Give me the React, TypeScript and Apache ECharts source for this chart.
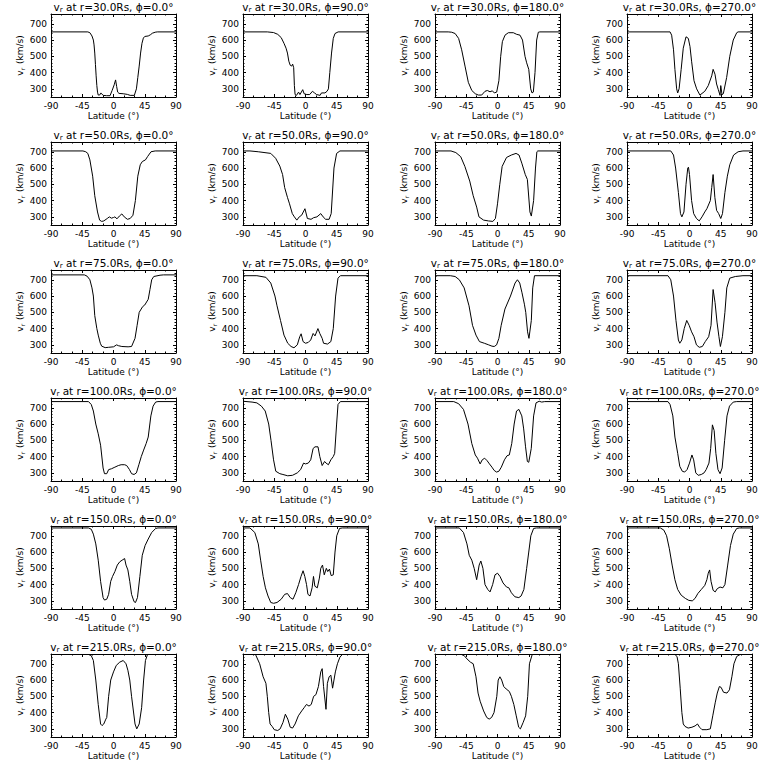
import React, { useEffect, useRef } from 'react';
import * as echarts from 'echarts';

const radii = ['30.0', '50.0', '75.0', '100.0', '150.0', '215.0'];
const phis = ['0.0', '90.0', '180.0', '270.0'];
const latMin = -90;
const latMax = 90;
const latStep = 45;
const vMin = 250;
const vMax = 760;

// r = 30 Rs
const r30p0 = [[-90,650],[-37,650],[-34,645],[-31,625],[-29,600],[-28,570],[-27,520],[-26,450],[-25,380],[-24,320],[-23,280],[-22,262],[-20,262],[-18,275],[-17,270],[-15,260],[-10,258],[-5,258],[-2,290],[1,325],[3,355],[4.5,315],[6,280],[8,272],[14,270],[20,266],[24,260],[30,260],[33,300],[35,370],[37,440],[39,520],[41,580],[43,612],[45,622],[50,625],[53,632],[56,642],[60,648],[63,650],[90,650]];
const r30p90 = [[-90,650],[-55,650],[-46,646],[-40,635],[-35,615],[-31,580],[-28,550],[-26,520],[-24,470],[-22,445],[-20,440],[-18.5,452],[-17,430],[-16,320],[-15,265],[-13,260],[-10,280],[-8,265],[-4,295],[-2,270],[2,265],[6,265],[10,285],[13,275],[16,265],[21,260],[23,275],[28,275],[31,285],[33,300],[35,400],[37.5,520],[40,610],[42.5,640],[47,650],[90,650]];
const r30p180 = [[-90,650],[-71,650],[-66,648],[-61,640],[-56,610],[-51.6,540],[-46.8,440],[-42,340],[-37,290],[-32,270],[-27.6,262],[-22.8,262],[-18,285],[-14.6,290],[-10.8,282],[-7.4,288],[-4.6,275],[-1.2,280],[2,350],[4.6,500],[7,590],[10.8,630],[15.6,645],[22.8,645],[27.6,635],[32.4,630],[36,600],[39.6,500],[42,460],[45,420],[47.8,300],[49.7,275],[51.6,280],[54,400],[56.4,600],[58.8,648],[61,650],[90,650]];
const r30p270 = [[-90,650],[-28,650],[-25.7,630],[-23,540],[-21,420],[-18.5,300],[-17,275],[-15,300],[-12,420],[-9,550],[-5,620],[-1.7,610],[0.7,560],[3,470],[6.5,350],[10.3,300],[15,262],[22,285],[27,320],[32,380],[34,420],[36.7,390],[39,330],[41.5,295],[44,260],[45,320],[46.8,265],[48.7,270],[53.5,370],[58,500],[63,600],[68,645],[70,650],[90,650]];

// r = 50 Rs
const r50p0 = [[-90,705],[-44,705],[-40,700],[-37,690],[-34,650],[-30,550],[-27,430],[-23,330],[-20,280],[-17,272],[-14,275],[-9,290],[-6,300],[-3,292],[0,296],[2,300],[5,288],[8.5,305],[12,318],[15.5,300],[20,285],[24,290],[28,310],[31.5,400],[35,550],[38.5,620],[41.5,640],[46,650],[49,670],[54,700],[60,705],[90,705]];
const r50p90 = [[-90,705],[-80,705],[-68,700],[-50,690],[-43,660],[-37,612],[-33,560],[-30,480],[-26,420],[-23,380],[-19,320],[-16,300],[-12.5,280],[-9,300],[-5.6,310],[-0.8,350],[2.7,290],[8,285],[11.7,295],[16.5,300],[22,320],[25.4,300],[29,285],[34,285],[37,320],[41,600],[44.8,690],[49.6,705],[90,705]];
const r50p180 = [[-90,705],[-67,705],[-60,695],[-53,670],[-47,610],[-40,520],[-35,430],[-30,360],[-26.7,300],[-20,280],[-13,275],[-6.7,272],[-3,290],[0,380],[3.3,500],[6.7,610],[13,665],[20,680],[26.7,690],[31,680],[35,630],[40,560],[43,530],[46.7,330],[48.7,305],[52,400],[54.7,600],[56.7,700],[58,705],[90,705]];
const r50p270 = [[-90,705],[-27,705],[-23,680],[-20,600],[-16,450],[-13,320],[-11,300],[-8,330],[-5,500],[-2.5,600],[-1.5,605],[0,560],[3,400],[6,320],[10,290],[14,275],[18,300],[22,330],[25,350],[30,400],[32,480],[34,560],[36.5,420],[39,340],[42,320],[45,290],[47.5,320],[51,450],[54.5,550],[58,620],[63.5,680],[70,700],[77,705],[90,705]];

// r = 75 Rs
const r75p0 = [[-90,730],[-42,730],[-38,722],[-34,700],[-31,650],[-29,600],[-27,480],[-24,400],[-22,360],[-19,310],[-17,292],[-12,283],[-7,285],[0,288],[4.5,300],[7,295],[12,290],[21,288],[26,290],[31,340],[34,420],[37,500],[42,535],[45,545],[50,580],[52.5,640],[55,700],[58,720],[67,728],[72,730],[90,730]];
const r75p90 = [[-90,725],[-70,725],[-57,715],[-50,680],[-44,600],[-41,540],[-36,450],[-31,360],[-25.6,310],[-20.8,290],[-16.6,282],[-11.8,300],[-8.3,350],[-6.3,368],[-3.5,320],[0,310],[4,315],[7.5,330],[11,370],[13.7,355],[17.9,400],[20.6,370],[24,340],[26,310],[31.7,305],[36.5,320],[40,400],[43.4,600],[46.8,710],[50.3,725],[90,725]];
const r75p180 = [[-90,725],[-68,725],[-61,720],[-55,700],[-48,650],[-41,540],[-36,420],[-31,360],[-26,320],[-19,310],[-12.7,300],[-8,292],[-4.7,290],[-1.3,300],[2,340],[5.3,420],[10.7,520],[18.7,600],[25.3,680],[28.7,700],[32,680],[35.3,620],[38.7,550],[40.7,500],[43.3,380],[45.3,340],[48.7,450],[50.7,650],[53.3,725],[90,725]];
const r75p270 = [[-90,725],[-31,725],[-27,700],[-23,600],[-19.5,450],[-16,330],[-14,310],[-11,330],[-7.6,400],[-4,450],[-0.5,420],[3,380],[6.5,350],[10,300],[14,285],[18.5,290],[22.7,320],[27.6,350],[31,420],[34,640],[36.8,560],[39.6,440],[42.4,350],[44.5,290],[47.4,350],[51,500],[53.7,650],[58,710],[66,720],[77,725],[90,725]];

// r = 100 Rs
const r100p0 = [[-90,738],[-36,738],[-32,720],[-29,680],[-25.5,600],[-22,540],[-18.6,470],[-15,330],[-13,295],[-9.7,295],[-7,320],[-3,325],[2,335],[7,345],[11,350],[16,350],[19,345],[23,320],[26,295],[29.6,290],[33,300],[36.5,350],[40,400],[43.4,440],[47,480],[50,520],[53.8,650],[57,710],[60.7,735],[64,738],[90,738]];
const r100p90 = [[-90,740],[-77,735],[-70,730],[-63.5,710],[-58,680],[-53,600],[-49.7,500],[-46,380],[-42.8,310],[-37,295],[-32.5,290],[-25.6,282],[-18.7,285],[-11.8,300],[-7,320],[-2.8,360],[0,355],[4,360],[7.5,380],[11,450],[13.7,460],[18,460],[20.6,400],[24,345],[27.5,370],[29.6,360],[33,350],[36.5,380],[40,400],[42,420],[44.8,600],[46.8,720],[50.3,738],[90,738]];
const r100p180 = [[-90,738],[-63,738],[-56,725],[-49,690],[-42.5,600],[-37,480],[-32,410],[-28.8,390],[-25,355],[-22,380],[-18.5,390],[-15,375],[-11.6,355],[-8,335],[-4.8,315],[-1.4,305],[2,310],[5.5,335],[10,380],[13.7,405],[17,410],[20.5,480],[24,600],[27.4,680],[30.8,690],[35,650],[37.7,570],[40.4,460],[43,370],[45,365],[48.6,450],[52,650],[55.5,730],[60,740],[63.7,735],[68,738],[90,738]];
const r100p270 = [[-90,738],[-31,738],[-28,720],[-24,650],[-21,520],[-17,420],[-14,340],[-10.4,310],[-7,305],[-3.5,320],[0,360],[3.5,410],[6,380],[9,300],[12.5,285],[17,290],[21,300],[24,320],[28,360],[30.5,450],[33,595],[35.5,560],[38,420],[41,320],[44,295],[47,330],[50.6,500],[54,650],[57.6,710],[63,735],[68,738],[90,738]];

// r = 150 Rs
const r150p0 = [[-90,748],[-36,748],[-32,740],[-29,710],[-25.5,650],[-22,550],[-18.6,420],[-15,320],[-13,305],[-9.7,310],[-7,340],[-4,420],[-1.4,450],[2,480],[5.5,520],[9,540],[12.4,550],[16,560],[18,520],[20.7,490],[23.4,420],[26,340],[29.6,295],[31.7,290],[34.5,320],[38,450],[41.4,580],[45.5,640],[50,680],[55,720],[60.7,745],[64,748],[90,748]];
const r150p90 = [[-90,748],[-80,748],[-73,720],[-68,650],[-64.6,550],[-61,450],[-57.7,380],[-54,330],[-50,290],[-46,285],[-41,290],[-35,310],[-30,340],[-26,345],[-22,320],[-18,310],[-14,350],[-10,400],[-6.5,450],[-3.5,485],[-1,450],[1.5,400],[3.5,340],[6.5,330],[9.5,380],[11.5,450],[13.5,390],[17,380],[20,440],[22,500],[24.5,520],[27,460],[30,500],[32,480],[34.5,495],[37,455],[40,460],[42.5,600],[45,700],[49,745],[53,748],[90,748]];
const r150p180 = [[-90,748],[-55,748],[-49,720],[-44,650],[-40.7,580],[-37,550],[-33.6,500],[-30,430],[-26.4,520],[-24,545],[-21,500],[-18,400],[-14,370],[-10.7,355],[-7,400],[-3.6,460],[0,470],[3.6,450],[8,410],[13,385],[16.4,380],[20,350],[25,325],[30.7,320],[34,330],[38,370],[42,500],[45,600],[48,700],[52,745],[56,748],[90,748]];
const r150p270 = [[-90,748],[-42,748],[-37,735],[-33,700],[-29,620],[-25,520],[-21,430],[-17,370],[-12,335],[-6,315],[-1,303],[4,300],[8,315],[12,345],[17,370],[22,395],[25,430],[27,470],[29,490],[31,420],[34,365],[37,355],[40,375],[44,385],[48,380],[51,400],[55,520],[59,640],[63,710],[68,745],[72,748],[90,748]];

// r = 215 Rs
const r215p0 = [[-90,757],[-36,757],[-32,750],[-29,720],[-25.5,600],[-22,450],[-18.6,330],[-16.5,320],[-14,330],[-11,360],[-9.7,370],[-7,500],[-4,600],[0,650],[4,690],[9,710],[14,720],[18,700],[20.7,660],[23.4,600],[26,500],[31,330],[33.5,300],[37,330],[40.5,430],[43.4,600],[46,720],[49,757],[90,757]];
const r215p90 = [[-90,757],[-72,757],[-66,700],[-61,620],[-57,580],[-55,500],[-53,400],[-51,330],[-48,315],[-45,295],[-40,290],[-36.5,300],[-32.4,340],[-29,390],[-25.5,360],[-22,310],[-18.6,305],[-15,330],[-10.3,380],[-5.5,410],[-2,430],[1.4,450],[5,440],[8.3,450],[11.7,500],[15,510],[18.6,560],[22,650],[24,670],[26,560],[29.5,420],[31.5,580],[34,620],[36.5,630],[39,550],[41,600],[43,650],[46,700],[49.5,740],[53,757],[90,757]];
const r215p180 = [[-90,757],[-52,757],[-48,750],[-44,730],[-39,710],[-35,700],[-31,620],[-28,520],[-25,470],[-20,410],[-15.5,370],[-12,360],[-8.5,370],[-5,400],[-1,500],[1,600],[3.5,620],[6,600],[9,560],[12.5,545],[17,530],[20,500],[23.5,450],[27,380],[30.5,310],[33,300],[37,340],[40.5,380],[43.5,500],[46,700],[50,757],[90,757]];
const r215p270 = [[-90,757],[-21,757],[-18,745],[-16,700],[-13.4,550],[-11,400],[-9,330],[-6.5,315],[-2,305],[3.5,310],[8,318],[11.5,330],[14.5,310],[18,295],[25,295],[30,300],[33.5,380],[37,460],[40,520],[43,560],[45.5,555],[49,525],[54,520],[57.5,540],[61,620],[64,700],[68,745],[73,757],[90,757]];

const panels = [
  [r30p0, r30p90, r30p180, r30p270],
  [r50p0, r50p90, r50p180, r50p270],
  [r75p0, r75p90, r75p180, r75p270],
  [r100p0, r100p90, r100p180, r100p270],
  [r150p0, r150p90, r150p180, r150p270],
  [r215p0, r215p90, r215p180, r215p270],
];

const FONT = 'DejaVu Sans';
const BLACK = '#000';

export default function App() {
  const ref = useRef<HTMLDivElement>(null);
  useEffect(() => {
    const chart = echarts.init(ref.current!, null, { renderer: 'svg' });
    const grids: any[] = [];
    const xAxes: any[] = [];
    const yAxes: any[] = [];
    const series: any[] = [];
    const graphics: any[] = [];
    const tick = { show: true, inside: true, length: 3, lineStyle: { color: BLACK, width: 1 } };
    const line = { show: true, onZero: false, lineStyle: { color: BLACK, width: 1 } };
    panels.forEach((row, r) => {
      row.forEach((data, c) => {
        const i = r * 4 + c;
        const left = 51 + 192 * c;
        const top = 14 + 128 * r;
        grids.push({ left, top, width: 125, height: 83, show: false });
        const xBase = {
          gridIndex: i, type: 'value', min: latMin, max: latMax, interval: latStep,
          axisLine: line, axisTick: tick,
          minorTick: { show: true, splitNumber: 3, length: 1.5, lineStyle: { color: BLACK, width: 1 } },
          splitLine: { show: false },
        };
        xAxes.push({
          ...xBase, position: 'bottom',
          axisLabel: { color: BLACK, fontSize: 9, fontFamily: FONT, margin: 4 },
          name: 'Latitude (°)', nameLocation: 'middle', nameGap: 14,
          nameTextStyle: { color: BLACK, fontSize: 9, fontFamily: FONT },
        });
        xAxes.push({ ...xBase, position: 'top', axisLabel: { show: false } });
        const yBase = {
          gridIndex: i, type: 'value', min: vMin, max: vMax, splitNumber: 5,
          axisLine: line, axisTick: tick,
          minorTick: { show: true, splitNumber: 5, length: 1.5, lineStyle: { color: BLACK, width: 1 } },
          splitLine: { show: false },
        };
        yAxes.push({
          ...yBase, position: 'left',
          axisLabel: {
            color: BLACK, fontSize: 9, fontFamily: FONT, margin: 4,
            formatter: (v: number) => (v % 100 === 0 ? String(v) : ''),
          },
          name: '{a|v}{b|r} (km/s)', nameLocation: 'middle', nameGap: 24, nameRotate: 90,
          nameTextStyle: {
            color: BLACK, fontSize: 9, fontFamily: FONT,
            rich: {
              a: { fontSize: 9, fontFamily: FONT, color: BLACK },
              b: { fontSize: 6, fontFamily: FONT, color: BLACK, padding: [5, 1, 0, 0] },
            },
          },
        });
        yAxes.push({ ...yBase, position: 'right', axisLabel: { show: false } });
        series.push({
          type: 'line', xAxisIndex: 2 * i, yAxisIndex: 2 * i, data,
          showSymbol: false, symbol: 'none', smooth: false,
          lineStyle: { color: BLACK, width: 1 }, silent: true,
        });
        graphics.push({
          type: 'text', x: left + 62.5, y: 128 * r + 0.5,
          style: {
            text: `{a|v}{b|r}{a| at r=${radii[r]}Rs, ϕ=${phis[c]}°}`,
            align: 'center', verticalAlign: 'top', fill: BLACK,
            font: `10.5px "${FONT}"`,
            rich: {
              a: { fontSize: 10.5, fontFamily: FONT, fill: BLACK },
              b: { fontSize: 7, fontFamily: FONT, fill: BLACK, padding: [6, 0, 0, 0] },
            },
          },
        });
      });
    });
    chart.setOption({
      animation: false,
      backgroundColor: '#fff',
      grid: grids,
      xAxis: xAxes,
      yAxis: yAxes,
      series,
      graphic: graphics,
    });
    return () => chart.dispose();
  }, []);
  return (
    <div
      ref={ref}
      style={{ position: 'fixed', left: 0, top: 0, width: 768, height: 768, background: '#fff' }}
    />
  );
}
